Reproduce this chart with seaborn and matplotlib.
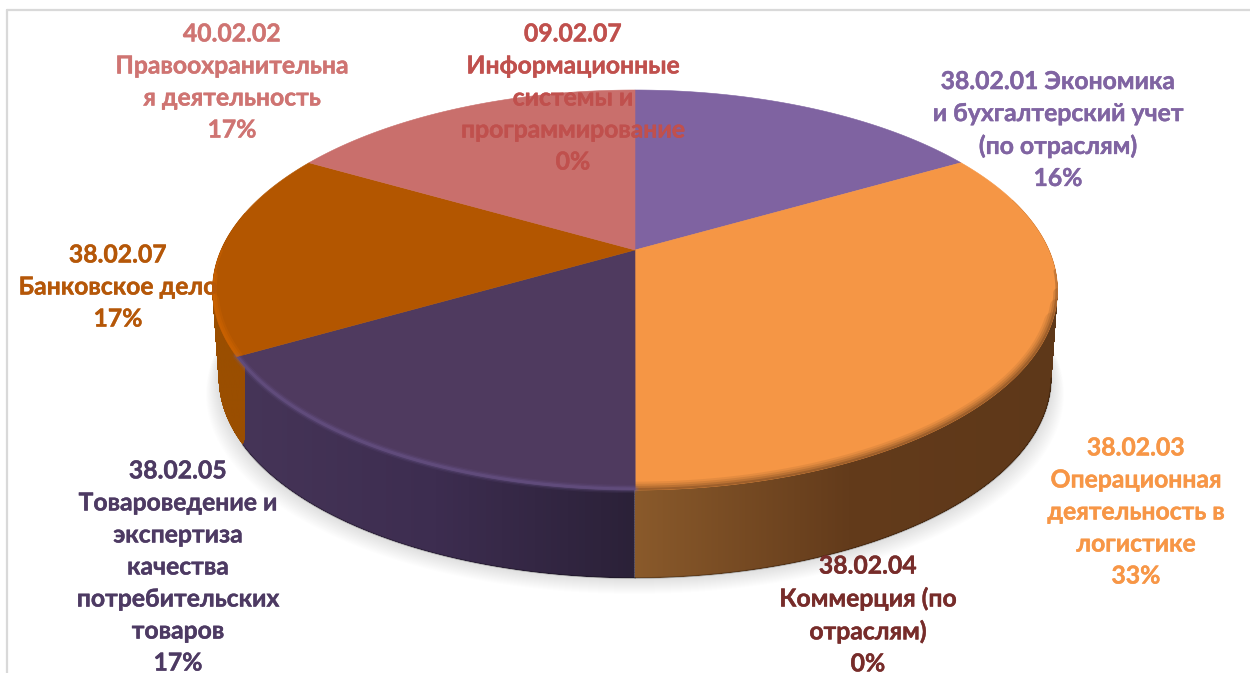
# -*- coding: utf-8 -*-
"""Tilted 3D-look pie of enrolment shares by speciality."""

import numpy as np
import matplotlib
matplotlib.use("Agg")
import matplotlib.pyplot as plt
import matplotlib.patheffects as pe
from matplotlib.colors import LinearSegmentedColormap
from matplotlib.patches import PathPatch, Polygon
from matplotlib.path import Path
import seaborn as sns

CATEGORIES = [
    "38.02.01 Экономика\nи бухгалтерский учет\n(по отраслям)",
    "38.02.03\nОперационная\nдеятельность в\nлогистике",
    "38.02.04\nКоммерция (по\nотраслям)",
    "38.02.05\nТовароведение и\nэкспертиза\nкачества\nпотребительских\nтоваров",
    "38.02.07\nБанковское дело",
    "40.02.02\nПравоохранительна\nя деятельность",
    "09.02.07\nИнформационные\nсистемы и\nпрограммирование",
]
# slice sizes, printed labels are kept as shown
SHARES = [16.67, 33.33, 0, 16.67, 16.67, 16.67, 0]
PCT_LABELS = ["16%", "33%", "0%", "17%", "17%", "17%", "0%"]

FACE_COLORS = ["#7f63a1", "#f59645", "#772c2a", "#4f3a5f", "#b35600", "#c96f6c", "#c0504d"]
TEXT_COLORS = ["#8064a2", "#f79646", "#772c2a", "#4d3a63", "#b55708", "#cf7472", "#c0504d"]
LABEL_XY = [(1058, 130), (1136, 512), (868, 615), (178, 567), (118, 287), (232, 82), (573, 98)]

# perspective of the disc, in pixels
CX, APEX_Y, RX, RY, TILT = 635, 250, 414, 192, 0.2
DEPTH, FLOOR_SCALE = 88, 0.985

SIDE_STOPS = {
    1: (635, 1062, ["#8a5a2b", "#633b1b", "#5e3819"]),
    3: (237, 635, ["#463558", "#3d2d50", "#2b2138"]),
    4: (205, 245, ["#9a4e00", "#9a4e00"]),
}


def rim(theta, depth=0.0):
    # depth 0 is the top face, 1 is the floor of the disc
    t = np.radians(theta)
    d = 1 + TILT * np.sin(t)
    x = RX * np.cos(t) / d
    y = APEX_Y - RY * np.sin(t) / d
    return CX + x * (1 - (1 - FLOOR_SCALE) * depth), y + DEPTH * depth


def arc(t1, t2, depth=0.0):
    return np.column_stack(rim(np.linspace(t1, t2, 200), depth))


sns.set_theme(style="white")
plt.rcParams["font.family"] = ["Lato", "Open Sans", "DejaVu Sans"]
palette = sns.color_palette(FACE_COLORS)

fig = plt.figure(figsize=(12.5, 6.73), dpi=100)

# the pie itself only gives the angles, they then go through the perspective
helper = fig.add_axes([0, 0, 0.1, 0.1])
wedges, _ = helper.pie(SHARES, startangle=90, counterclock=False)
angles = [(w.theta1, w.theta2) for w in wedges]
helper.remove()

ax = fig.add_axes([0, 0, 1, 1])
ax.axis("off")

ax.axhline(10, xmin=7 / 1250, color="#d9d9d9", lw=1.6, zorder=0)
ax.axvline(7, ymin=0, ymax=1 - 10 / 673, color="#d9d9d9", lw=1.6, zorder=0)

# soft shadow under the disc
floor_ring = arc(0, 360, depth=1)
for k in range(1, 17):
    ring = floor_ring.copy()
    ring[:, 0] = CX + (ring[:, 0] - CX) * (1 + k * 0.8 / 415)
    ring[:, 1] = ring[:, 1] + k
    ax.add_patch(Polygon(ring, closed=True, fc="black", ec="none", alpha=0.008, zorder=1))

# side walls with a horizontal gradient, swept from the top rim down to the floor
# (fine steps, coarser ones leave stripes where the arc ends thin out)
for i, (x0, x1, stops) in SIDE_STOPS.items():
    t1, t2 = angles[i]
    sweep = []
    for f in np.linspace(0, 1, 300):
        pts = arc(t1, t2, depth=f)
        sweep.append(Path(np.vstack([pts, pts[:1]]), closed=True))
    wall = PathPatch(Path.make_compound_path(*sweep), fc="none", ec="none", zorder=2)
    ax.add_patch(wall)
    cmap = LinearSegmentedColormap.from_list(f"side{i}", stops)
    img = ax.imshow(np.linspace(0, 1, 256)[None, :], cmap=cmap, aspect="auto",
                    extent=[x0, x1, 600, 200], zorder=2)
    img.set_clip_path(wall)
    if i != 4:
        lower = arc(t1, t2, depth=1)
        lower = lower[lower[:, 1] > 378]
        ax.plot(lower[:, 0], lower[:, 1], color="black", lw=1.2, alpha=0.25, zorder=3)
ax.set_xlim(0, 1250)
ax.set_ylim(673, 0)

# top faces
apex = np.array([[CX, APEX_Y]])
for i, (t1, t2) in enumerate(angles):
    if t2 - t1 < 0.01:
        continue
    face = Polygon(np.vstack([apex, arc(t1, t2)]), closed=True,
                   fc=palette[i], ec=palette[i], lw=0.4, zorder=4)
    ax.add_patch(face)

    edge = arc(t1, t2)
    if i == 1:
        # dark soft bevel on the orange rim, fading in towards the front
        for lw, a, y_from in [(12, 0.10, 320), (9, 0.14, 305), (6, 0.2, 292), (3, 0.3, 270)]:
            low = edge[edge[:, 1] > y_from]
            ln, = ax.plot(low[:, 0], low[:, 1], color="#5e3819", lw=lw, alpha=a, zorder=5)
            ln.set_clip_path(face)
    elif i == 3:
        # light bevel on the purple rim
        for lw, a in [(6, 0.1), (4, 0.2), (2.2, 0.3)]:
            ax.plot(edge[:, 0], edge[:, 1] - 1, color="#75609a", lw=lw, alpha=a,
                    zorder=5, solid_capstyle="round")
    elif i == 4:
        for lw, a, y_from in [(9, 0.3, 300), (6, 0.4, 275), (3, 0.4, 250)]:
            low = edge[edge[:, 1] > y_from]
            ln, = ax.plot(low[:, 0], low[:, 1], color="#d06500", lw=lw, alpha=a, zorder=5)
            ln.set_clip_path(face)

for label, pct, color, (x, y) in zip(CATEGORIES, PCT_LABELS, TEXT_COLORS, LABEL_XY):
    ax.text(x, y, label + "\n" + pct, color=color, ha="center", va="center",
            fontsize=17.8, fontweight="bold", linespacing=1.475, zorder=6,
            path_effects=[pe.withStroke(linewidth=0.3, foreground=color)])

fig.savefig("out.png", dpi=100)
